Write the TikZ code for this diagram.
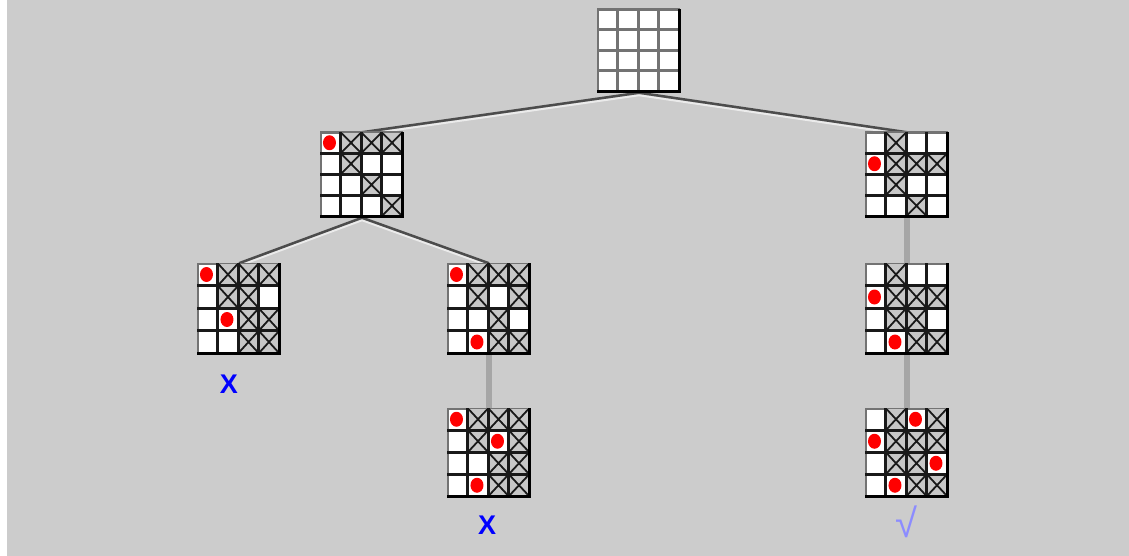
\documentclass[tikz,border=0pt]{standalone}
\usepackage{fontspec}
\setsansfont{Liberation Sans}
\usepackage{tikz}
\usepackage{xcolor}
\usetikzlibrary{calc,backgrounds}
\definecolor{bg}{HTML}{CCCCCC}
\definecolor{qred}{HTML}{FF0000}
\definecolor{markblue}{HTML}{0000FF}
\definecolor{okblue}{HTML}{8C8CFF}

\tikzset{
  boardnode/.style={draw=black!55,line width=1.5pt,fill=white,minimum width=82pt,inner sep=0pt},
  frameline/.style={black!55,line width=1.5pt},
  gridline/.style={black!90,line width=2.6pt},
  crossfill/.style={fill=black!22},
  crossline/.style={black!90,line width=1.8pt},
  queen/.style={fill=qred},
  edgeline/.style={black,line width=3pt},
  link/.style={black!70,line width=2.5pt},
  linkhi/.style={white!92!black,line width=2pt,transform canvas={yshift=-2.5pt}},
  vlink/.style={black!35,line width=6pt},
  fail/.style={markblue,font=\fontsize{27}{27}\selectfont\sffamily\bfseries},
  done/.style={okblue,font=\fontsize{40}{40}\selectfont\sffamily}
}

% #1 name, #2 centre, #3 cell height, #4 crossed cells r/c, #5 queens r/c
\newcommand{\board}[5]{%
  \node[boardnode,minimum height={4*#3pt}] (#1) at (#2) {};
  \begin{scope}[shift={(#1.north west)},x=20.5pt,y=-#3pt]
    \begin{scope}
      \clip (0,0) rectangle (4,4);
      \foreach \r/\c in {#4} {
        \fill[crossfill] (\c,\r) rectangle ++(1,1);
        \draw[crossline] (\c,\r) -- (\c+1,\r+1) (\c+1,\r) -- (\c,\r+1);
      }
    \end{scope}
    \draw[frameline] (0,0) rectangle (4,4);
    \foreach \k in {1,2,3} \draw[gridline] (\k,0) -- (\k,4) (0,\k) -- (4,\k);
    \foreach \r/\c in {#5} \fill[queen] (\c+0.45,\r+0.5) ellipse (6.5pt and 7.5pt);
    \draw[edgeline] (0,4) -- (4,4) -- (4,0);
  \end{scope}}

\begin{document}
\begin{tikzpicture}[x=1pt,y=-1pt]
  \useasboundingbox (0,0) rectangle (1129,556);
  \begin{scope}[on background layer]
    \fill[bg] (7,0) rectangle (1129,556);
  \end{scope}

  \begin{scope}[gridline/.append style={black!55,line width=3pt}]
    \board{root}{639,51}{20.5}{}{}
  \end{scope}
  \board{left}{362,175}{21}{0/1,0/2,0/3,1/1,2/2,3/3}{0/0}
  \board{right}{907,175}{21}{0/1,1/1,2/1,1/2,3/2,1/3}{1/0}
  \board{deadA}{239,309}{22.5}{0/1,1/1,0/2,1/2,2/2,3/2,0/3,2/3,3/3}{0/0,2/1}
  \board{mid}{489,309}{22.5}{0/1,1/1,0/2,2/2,3/2,0/3,1/3,3/3}{0/0,3/1}
  \board{deadB}{489,453}{22}{0/1,1/1,0/2,2/2,3/2,0/3,1/3,2/3,3/3}{0/0,3/1,1/2}
  \board{next}{907,309}{22.5}{0/1,1/1,2/1,1/2,2/2,3/2,1/3,3/3}{1/0,3/1}
  \board{solved}{907,453}{22}{0/1,1/1,2/1,1/2,2/2,3/2,0/3,1/3,3/3}{1/0,3/1,0/2,2/3}

  \node[fail] (markA) at (229,384) {X};
  \node[fail] (markB) at (487,525) {X};
  \node[done] (markok) at (906,522) {√};

  \begin{scope}[on background layer]
    \foreach \a/\b in {root/left,root/right,left/deadA,left/mid} {
      \draw[linkhi] (\a.south) -- (\b.north);
      \draw[link] (\a.south) -- (\b.north);
    }
    \draw[vlink] (mid.south) -- (deadB.north);
    \draw[vlink] (right.south) -- (next.north);
    \draw[vlink] (next.south) -- (solved.north);
  \end{scope}
\end{tikzpicture}
\end{document}
